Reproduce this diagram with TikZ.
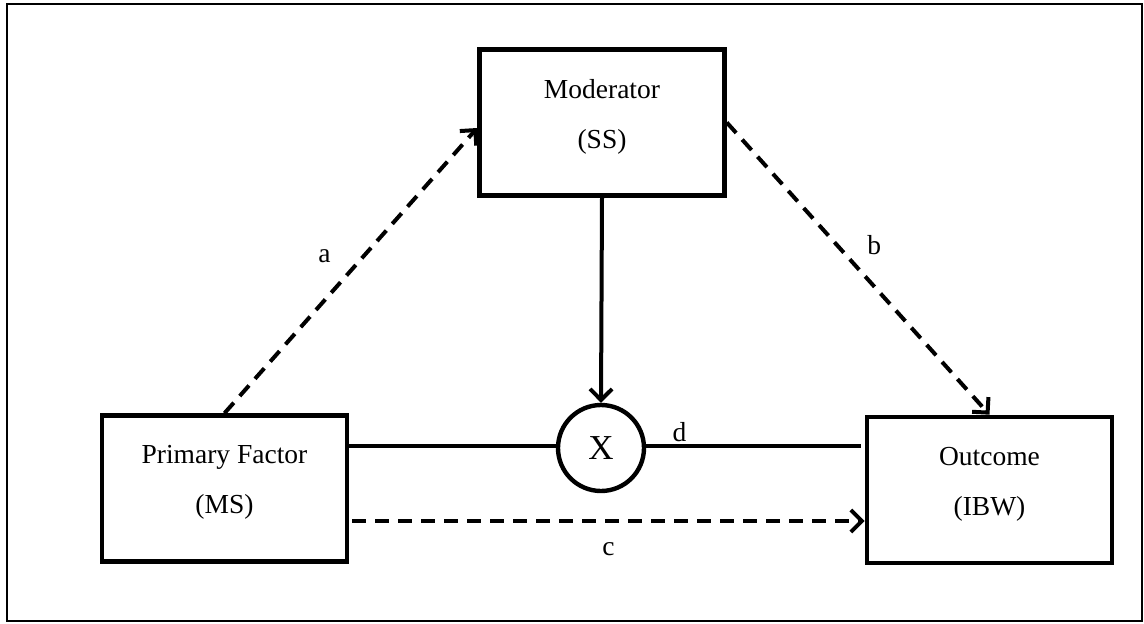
\documentclass[tikz,border=0pt]{standalone}
\usepackage{fontspec}
\setmainfont{Liberation Serif}
\usetikzlibrary{arrows.meta}

\newcommand{\lowstrut}{\rule[-18pt]{0pt}{18pt}}

\tikzset{
  varbox/.style={draw, line width=4.6pt, minimum width=245pt, minimum height=146pt,
    inner sep=0pt, align=center, font=\fontsize{27.5}{50}\selectfont},
  prodnode/.style={draw, circle, line width=4.4pt, minimum size=86pt, inner sep=0pt,
    font=\fontsize{35}{40}\selectfont},
  pathlabel/.style={font=\fontsize{27.5}{32}\selectfont, inner sep=0pt},
  effect/.style={line width=4pt, dash pattern=on 14pt off 9pt,
    -{Straight Barb[length=11pt,width=22pt]}},
  modarrow/.style={line width=4pt, -{Straight Barb[length=11pt,width=22pt]}},
  link/.style={line width=3.4pt}
}

\begin{document}
\begin{tikzpicture}[x=1pt,y=-1pt]
  \useasboundingbox (0,0) rectangle (1144,624);
  % outer frame
  \draw[line width=2.6pt] (7,4) rectangle (1142,621);

  % variables
  \node[varbox] (mod)  at (602,122.5) {Moderator\\(SS)\lowstrut};
  \node[varbox] (prim) at (224.5,488.5) {Primary Factor\\(MS)\lowstrut};
  \node[varbox] (outc) at (989.5,490) {Outcome\\(IBW)\lowstrut};
  \node[prodnode] (x) at (601,448) {X};

  % interaction term
  \coordinate (pl) at ([xshift=-2pt,yshift=42.5pt]prim.east);
  \coordinate (ol) at ([xshift=-4pt]outc.west |- pl);
  \draw[link] (pl) -- (x.west |- pl);
  \draw[link] (x.east |- pl) -- node[pathlabel, pos=0.155, yshift=14pt] {d} (ol);
  \draw[modarrow] (mod.south) -- (x.north);

  % paths a, b, c
  \draw[effect] (prim.north) -- node[pathlabel, pos=0.55, xshift=-39pt] {a} ([yshift=-5.5pt]mod.west);
  \draw[effect] (mod.east) -- node[pathlabel, pos=0.42, xshift=37pt] {b} (outc.north);
  \coordinate (cs) at ([xshift=3pt,yshift=-32.5pt]prim.east);
  \draw[effect] (cs) -- node[pathlabel, pos=0.5, yshift=-28pt] {c} (outc.west |- cs);
\end{tikzpicture}
\end{document}
